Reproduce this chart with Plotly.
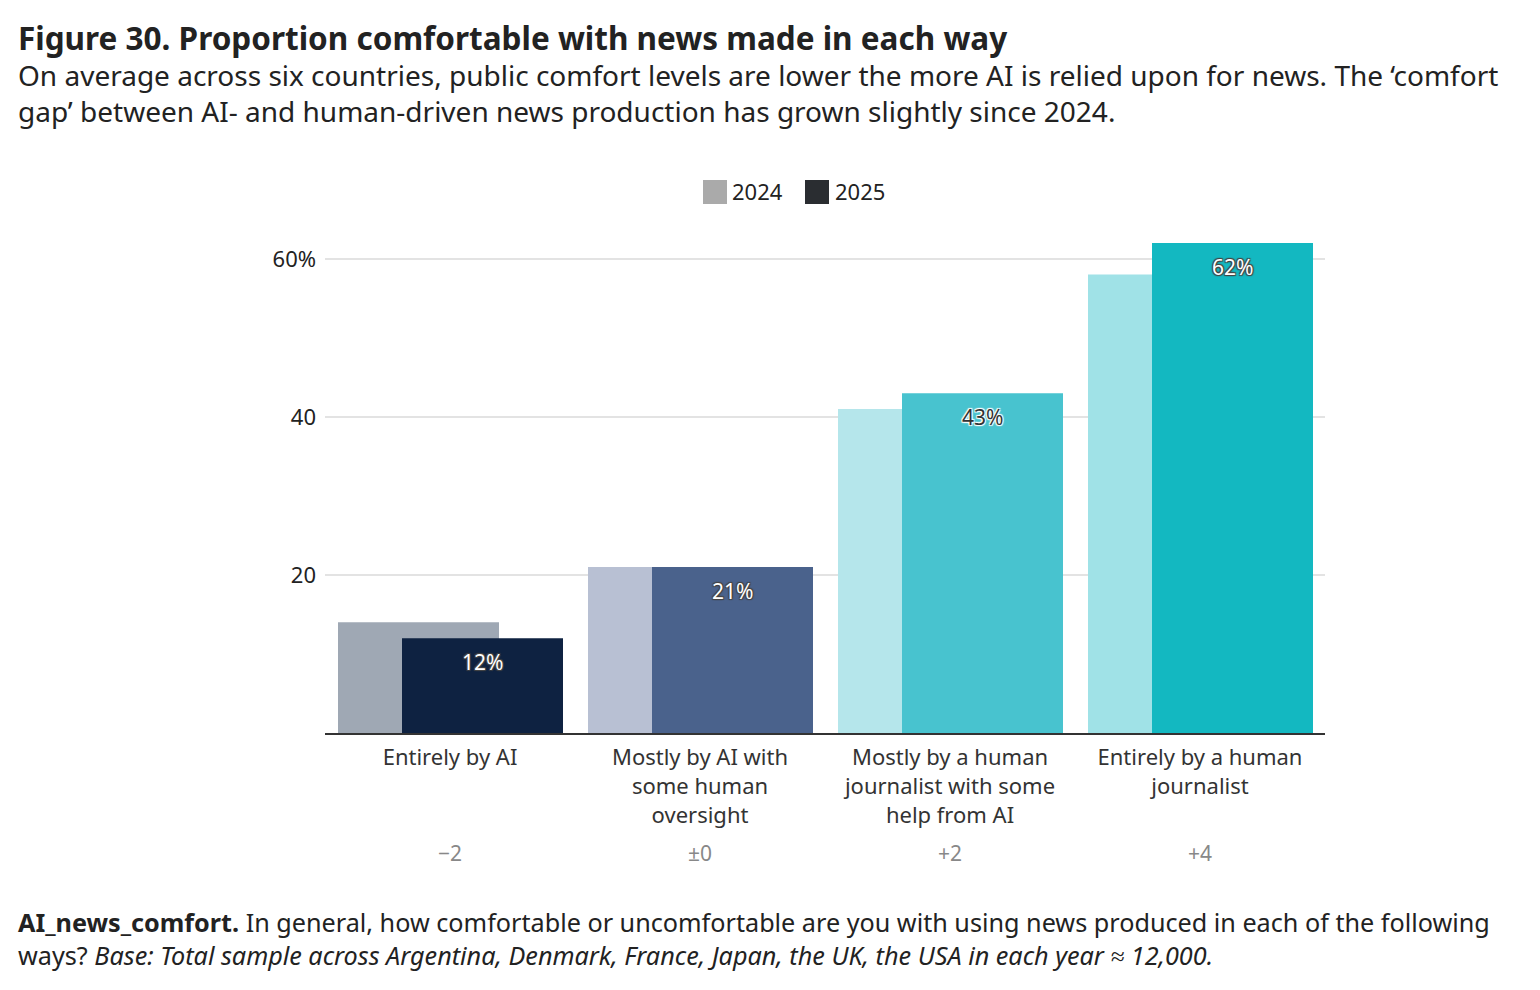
import plotly.graph_objects as go

categories = ["Entirely by AI", "Mostly by AI with<br>some human<br>oversight",
              "Mostly by a human<br>journalist with some<br>help from AI",
              "Entirely by a human<br>journalist"]
gap_labels = ["\u22122", "\u00b10", "+2", "+4"]
values_2024 = [14, 21, 41, 58]
values_2025 = [12, 21, 43, 62]
labels_2025 = ["12%", "21%", "43%", "62%"]
colors_2024 = ["#9fa8b4", "#b8c0d3", "#b5e6eb", "#a0e2e7"]
colors_2025 = ["#0e2241", "#4a628c", "#48c3cf", "#13b8c1"]
label_colors = ["#ffffff", "#ffffff", "#333333", "#ffffff"]
legend_names = ["2024", "2025"]
legend_colors = ["#aaaaaa", "#2a2d31"]

FONT = "Noto Sans"
# page has an 8px body margin; plot area in page px: x 325..1325, y 243..733
L, T = 317, 235
PW, PH = 1000, 490
W, H = 1532, 982
R, B = W - L - PW, H - T - PH

def px_x(p):
    return (p - 325) / PW

def px_y(p):
    return (733 - p) / PH

BAR_W = 0.644
OFF_24 = -0.448
OFF_25 = -0.192

xs = list(range(len(categories)))
fig = go.Figure()
fig.add_trace(go.Bar(x=xs, y=values_2024, width=BAR_W, offset=OFF_24,
                     marker=dict(color=colors_2024, line=dict(width=0)),
                     showlegend=False, hoverinfo="skip"))
fig.add_trace(go.Bar(x=xs, y=values_2025, width=BAR_W, offset=OFF_25,
                     marker=dict(color=colors_2025, line=dict(width=0)),
                     showlegend=False, hoverinfo="skip"))

def txt(text, x, y, size, color="#222222", anchor="left"):
    return dict(text=text, x=px_x(x), y=px_y(y), xref="paper", yref="paper",
                xanchor=anchor, yanchor="middle", showarrow=False,
                font=dict(family=FONT, size=size, color=color))

annotations = [
    txt("<b>Figure 30. Proportion comfortable with news made in each way</b>", 16, 37, 31.5),
    txt("On average across six countries, public comfort levels are lower the more AI is relied upon for news. The \u2018comfort", 16, 75, 28),
    txt("gap\u2019 between AI- and human-driven news production has grown slightly since 2024.", 16, 111, 28),
    txt("<b>AI_news_comfort.</b> In general, how comfortable or uncomfortable are you with using news produced in each of the following", 16, 922, 25.2),
    txt("ways? <i>Base: Total sample across Argentina, Denmark, France, Japan, the UK, the USA in each year \u2248 12,000.</i>", 16, 955, 25.2),
]
for i, g in enumerate(gap_labels):
    annotations.append(dict(text=g, x=i, y=px_y(853), xref="x", yref="paper",
                            xanchor="center", yanchor="middle", showarrow=False,
                            font=dict(family=FONT, size=21, color="#888888")))
for i, (v, lab, c) in enumerate(zip(values_2025, labels_2025, label_colors)):
    annotations.append(dict(text=lab, x=i + OFF_25 + BAR_W / 2, y=v, xref="x", yref="y",
                            xanchor="center", yanchor="middle", yshift=-24, showarrow=False,
                            font=dict(family=FONT, size=21, color=c, shadow="auto")))

# legend (drawn as squares + text)
shapes = []
leg_pos = [(703, 730), (805, 833)]
for (sx, tx), name, c in zip(leg_pos, legend_names, legend_colors):
    shapes.append(dict(type="rect", xref="paper", yref="paper",
                       x0=px_x(sx), x1=px_x(sx + 24), y0=px_y(204), y1=px_y(180),
                       fillcolor=c, line=dict(width=0)))
    annotations.append(txt(name, tx, 191, 22))

fig.update_layout(
    width=W, height=H,
    margin=dict(l=L, r=R, t=T, b=B, pad=0),
    paper_bgcolor="white", plot_bgcolor="white",
    barmode="overlay",
    font=dict(family=FONT, color="#222222"),
    showlegend=False,
    annotations=annotations,
    shapes=shapes,
    xaxis=dict(range=[-0.5, 3.5], tickmode="array", tickvals=xs, ticktext=categories,
               showgrid=False, zeroline=False, showline=True, linecolor="#333333", linewidth=2,
               ticks="", ticklabelstandoff=4,
               tickfont=dict(family=FONT, size=22, color="#333333"), fixedrange=True),
    yaxis=dict(range=[0, 62], tickmode="array", tickvals=[20, 40, 60], ticktext=["20", "40", "60%"],
               showgrid=True, gridcolor="#e3e3e3", gridwidth=2, zeroline=False, showline=False,
               ticks="", ticklabelstandoff=8,
               tickfont=dict(family=FONT, size=22, color="#222222"), fixedrange=True),
)

fig.write_html("out.html")
